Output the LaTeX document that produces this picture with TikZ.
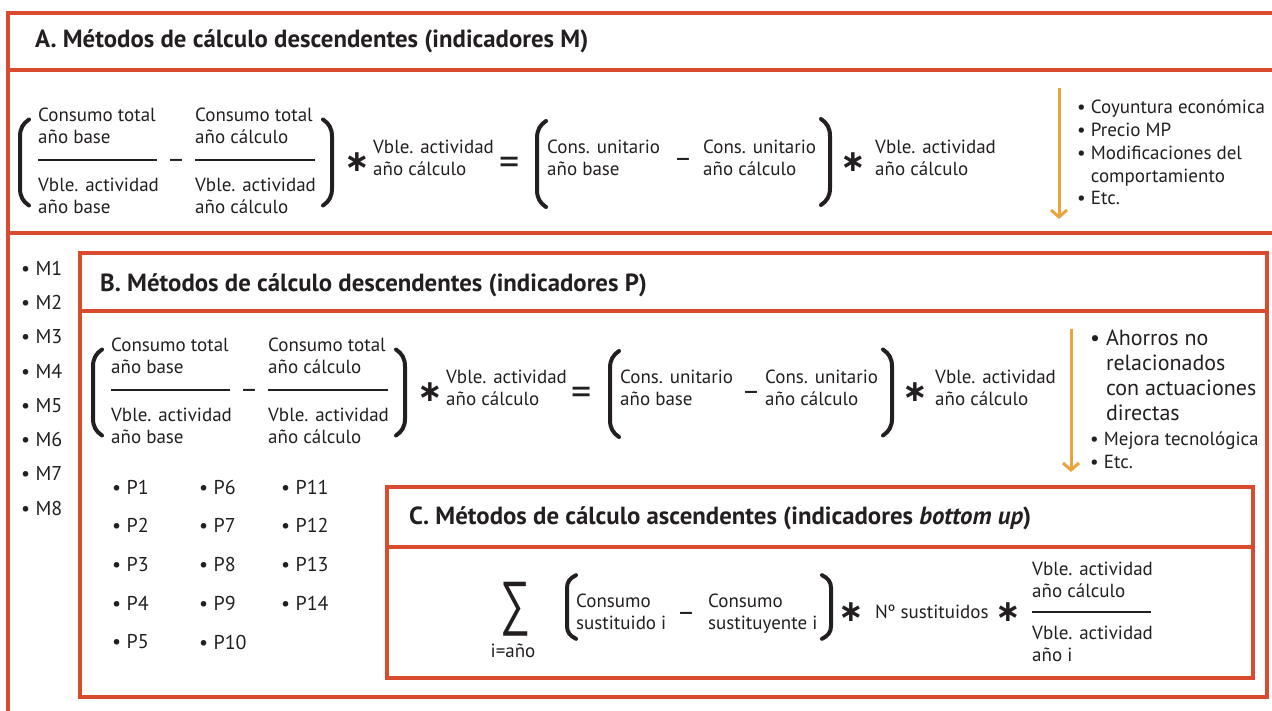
\documentclass[tikz,border=0pt]{standalone}
\usepackage{fontspec}
\setmainfont{PT Sans}
\newfontfamily\simbolo{Liberation Sans}
\newfontfamily\asterisco{DejaVu Sans}
\usepackage{graphicx}
\usepackage{tikz}
\usetikzlibrary{arrows.meta}
\definecolor{rojo}{RGB}{217,74,46}
\definecolor{naranja}{RGB}{234,164,62}
\definecolor{tinta}{RGB}{35,31,32}
\tikzset{
    marco/.style={draw=rojo, line width=4pt},
    titulo/.style={font=\bfseries\fontsize{24.8}{28}\selectfont, text=tinta, inner sep=0pt, anchor=west},
    texto/.style={font=\fontsize{19}{22}\selectfont, text=tinta, inner sep=0pt, align=left, anchor=north west},
    punto/.style={font=\fontsize{20}{24}\selectfont, text=tinta, inner sep=0pt, anchor=west},
    signo/.style={text=tinta, inner sep=0pt},
    menos/.style={signo, font=\fontsize{28}{28}\selectfont, anchor=base},
    igual/.style={signo, font=\fontsize{40}{40}\selectfont, anchor=base},
    por/.style={signo, font=\asterisco\bfseries\fontsize{30}{30}\selectfont},
    barra/.style={draw=tinta, line width=2.5pt},
    parentesis/.style={draw=tinta, line width=4pt, line cap=round},
    flecha/.style={draw=naranja, line width=3pt, -{Straight Barb[length=7pt,width=16pt]}},
    parizq/.pic={\draw[parentesis] (9,-43) .. controls (3,-39) and (0,-34) .. (0,-26) -- (0,26) .. controls (0,34) and (3,39) .. (9,43);},
    parder/.pic={\draw[parentesis] (-9,-43) .. controls (-3,-39) and (0,-34) .. (0,-26) -- (0,26) .. controls (0,34) and (-3,39) .. (-9,43);}
}
\begin{document}
\begin{tikzpicture}[x=1pt, y=-1pt]
            \useasboundingbox (0,0) rectangle (1272,711);
            \draw[marco] (8,711) -- (8,13) -- (1272,13);
            \draw[marco] (8,70) -- (1272,70);
            \draw[marco] (8,233) -- (1272,233);
            \draw[marco] (80,253) rectangle (1267,697);
            \draw[marco] (80,311) -- (1267,311);
            \draw[marco] (387,487) rectangle (1253,678);
            \draw[marco] (387,547) -- (1253,547);

            \node[titulo] (tituloA) at (35,41) {A. Métodos de cálculo descendentes (indicadores M)};
            \pic at (20,162.5) {parizq};
            \node[texto] (numA1) at (38,108) {Consumo total\\año base};
            \node[texto] (denA1) at (38,178) {Vble. actividad\\año base};
            \draw[barra] (38,160) -- (157,160);
            \node[menos] (menosA1) at (176,169) {–};
            \node[texto] (numA2) at (195,108) {Consumo total\\año cálculo};
            \node[texto] (denA2) at (195,178) {Vble. actividad\\año cálculo};
            \draw[barra] (195,160) -- (315,160);
            \pic at (332,162.5) {parder};
            \node[por] (porA1) at (357,162) {∗};
            \node[texto] (vbleA1) at (373,140) {Vble. actividad\\año cálculo};
            \node[igual] (igualA) at (510,175.5) {=};
            \pic at (537,164) {parizq};
            \node[texto] (consA1) at (547,140) {Cons. unitario\\año base};
            \node[menos] (menosA2) at (683,168) {–};
            \node[texto] (consA2) at (703,140) {Cons. unitario\\año cálculo};
            \pic at (830,162) {parder};
            \node[por] (porA2) at (853,162) {∗};
            \node[texto] (vbleA2) at (875,140) {Vble. actividad\\año cálculo};
            \coordinate (flechaAini) at (1059,88);
            \coordinate (flechaAfin) at (1059,219);
            \draw[flecha] (flechaAini) -- (flechaAfin);
            \node[texto, font=\fontsize{19}{22.75}\selectfont] (causasA) at (1077,100) {• Coyuntura económica\\• Precio MP\\• Modificaciones del\\\hphantom{• }comportamiento\\• Etc.};

            \node[punto] (m1) at (21,268) {• M1};
            \node[punto] (m2) at (21,302.3) {• M2};
            \node[punto] (m3) at (21,336.6) {• M3};
            \node[punto] (m4) at (21,370.9) {• M4};
            \node[punto] (m5) at (21,405.2) {• M5};
            \node[punto] (m6) at (21,439.5) {• M6};
            \node[punto] (m7) at (21,473.8) {• M7};
            \node[punto] (m8) at (21,508.1) {• M8};

            \node[titulo] (tituloB) at (100,285) {B. Métodos de cálculo descendentes (indicadores P)};
            \pic at (93,392.5) {parizq};
            \node[texto] (numB1) at (111,338) {Consumo total\\año base};
            \node[texto] (denB1) at (111,408) {Vble. actividad\\año base};
            \draw[barra] (111,390) -- (230,390);
            \node[menos] (menosB1) at (249,399) {–};
            \node[texto] (numB2) at (268,338) {Consumo total\\año cálculo};
            \node[texto] (denB2) at (268,408) {Vble. actividad\\año cálculo};
            \draw[barra] (268,390) -- (388,390);
            \pic at (405,392.5) {parder};
            \node[por] (porB1) at (430,392) {∗};
            \node[texto] (vbleB1) at (446,370) {Vble. actividad\\año cálculo};
            \node[igual] (igualB) at (582,405.5) {=};
            \pic at (610,394) {parizq};
            \node[texto] (consB1) at (620,370) {Cons. unitario\\año base};
            \node[menos] (menosB2) at (751,400) {–};
            \node[texto] (consB2) at (765,370) {Cons. unitario\\año cálculo};
            \pic at (892,392.5) {parder};
            \node[por] (porB2) at (915,392) {∗};
            \node[texto] (vbleB2) at (935,370) {Vble. actividad\\año cálculo};
            \coordinate (flechaBini) at (1071,329);
            \coordinate (flechaBfin) at (1071,472);
            \draw[flecha] (flechaBini) -- (flechaBfin);
            \node[texto, font=\fontsize{22}{25}\selectfont] (causasB1) at (1090,330) {• Ahorros no\\\hphantom{• }relacionados\\\hphantom{• }con actuaciones\\\hphantom{• }directas};
            \node[texto, font=\fontsize{19}{22.5}\selectfont] (causasB2) at (1090,432) {• Mejora tecnológica\\• Etc.};

            \node[punto] (p1) at (112,487) {• P1};
            \node[punto] (p2) at (112,525.8) {• P2};
            \node[punto] (p3) at (112,564.5) {• P3};
            \node[punto] (p4) at (112,603.3) {• P4};
            \node[punto] (p5) at (112,642) {• P5};
            \node[punto] (p6) at (199,487) {• P6};
            \node[punto] (p7) at (199,525.8) {• P7};
            \node[punto] (p8) at (199,564.5) {• P8};
            \node[punto] (p9) at (199,603.3) {• P9};
            \node[punto] (p10) at (199,642) {• P10};
            \node[punto] (p11) at (281,487) {• P11};
            \node[punto] (p12) at (281,525.8) {• P12};
            \node[punto] (p13) at (281,564.5) {• P13};
            \node[punto] (p14) at (281,603.3) {• P14};

            \node[titulo] (tituloC) at (409,518) {C. Métodos de cálculo ascendentes (indicadores \textit{bottom up})};
            \node[signo, font=\simbolo\fontsize{60}{60}\selectfont] (suma) at (515,609) {\scalebox{0.7}[1]{∑}};
            \node[signo, font=\fontsize{19}{22}\selectfont] (indice) at (513,651) {i=año};
            \pic[yscale=0.74] at (567,607) {parizq};
            \node[texto] (consC1) at (576,594) {Consumo\\sustituido i};
            \node[menos] (menosC) at (686,621) {–};
            \node[texto] (consC2) at (708,594) {Consumo\\sustituyente i};
            \pic[yscale=0.74] at (831,607) {parder};
            \node[por] (porC1) at (851,612) {∗};
            \node[signo, font=\fontsize{19}{22}\selectfont, anchor=west] (sustituidos) at (875,612) {Nº sustituidos};
            \node[por] (porC2) at (1008,612) {∗};
            \node[texto] (numC) at (1032,562) {Vble. actividad\\año cálculo};
            \draw[barra] (1032,612) -- (1151,612);
            \node[texto] (denC) at (1032,626) {Vble. actividad\\año i};
        \end{tikzpicture}
\end{document}
